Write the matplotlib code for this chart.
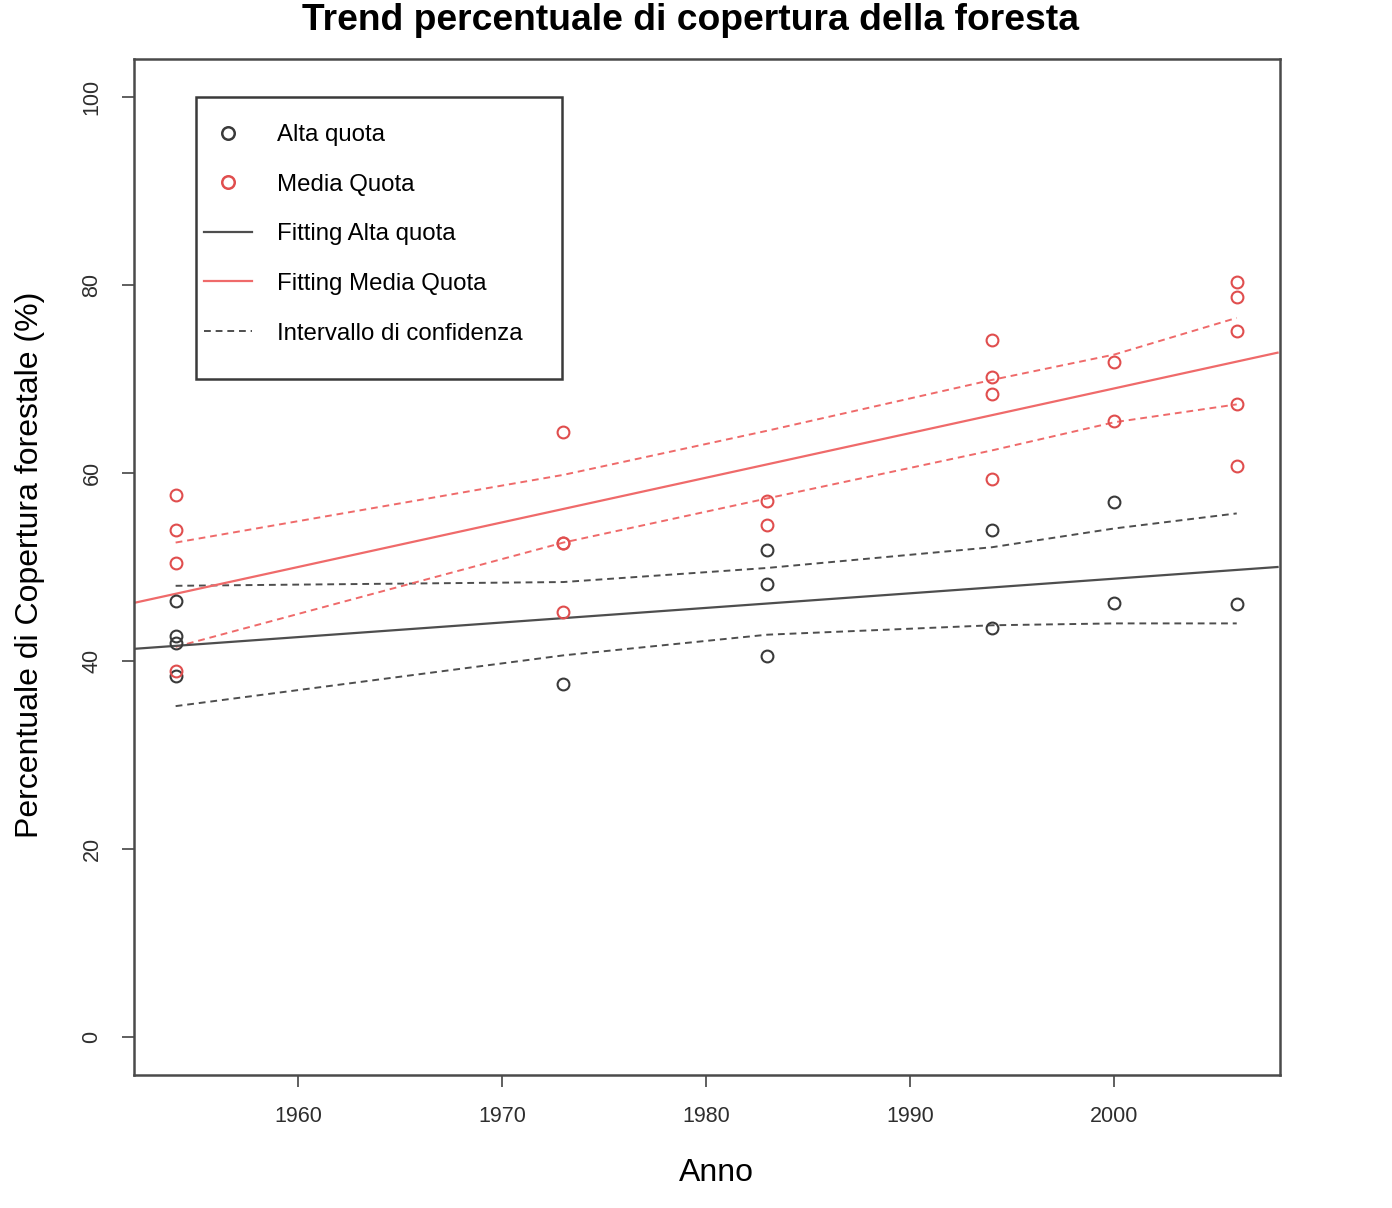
import matplotlib
matplotlib.use("Agg")
import matplotlib.pyplot as plt
from matplotlib.patches import Rectangle
from matplotlib.lines import Line2D

plt.rcParams['font.family'] = ['Liberation Sans', 'DejaVu Sans']

# ---- data ----
alta_years = [1954, 1954, 1954, 1954, 1973, 1983, 1983, 1983, 1994, 1994, 2000, 2000, 2006]
alta_vals  = [46.4, 42.7, 41.9, 38.4, 37.6, 51.8, 48.2, 40.5, 53.9, 43.5, 56.9, 46.2, 46.1]

media_years = [1954, 1954, 1954, 1954, 1973, 1973, 1973, 1973, 1983, 1983,
               1994, 1994, 1994, 1994, 2000, 2000, 2006, 2006, 2006, 2006, 2006]
media_vals  = [57.7, 53.9, 50.4, 38.9, 64.4, 52.6, 52.5, 45.2, 57.0, 54.5,
               74.1, 70.2, 68.4, 59.4, 71.8, 65.5, 80.3, 78.7, 75.1, 67.3, 60.7]

# fitted regression lines (value at 1952 and 2008)
fit_years = [1952, 2008]
fit_alta  = [41.3, 50.0]
fit_media = [46.2, 72.8]

# confidence interval curves
ci_years = [1954, 1973, 1983, 1994, 2000, 2006]
ci_alta_upper  = [48.0, 48.4, 49.9, 52.1, 54.1, 55.7]
ci_alta_lower  = [35.2, 40.6, 42.8, 43.8, 44.0, 44.0]
ci_media_upper = [52.6, 59.8, 64.5, 69.9, 72.6, 76.5]
ci_media_lower = [41.5, 52.6, 57.3, 62.4, 65.4, 67.3]

x_ticks = [1960, 1970, 1980, 1990, 2000]
y_ticks = [0, 20, 40, 60, 80, 100]

title = "Trend percentuale di copertura della foresta"
xlabel = "Anno"
ylabel = "Percentuale di Copertura forestale (%)"
legend_labels = ["Alta quota", "Media Quota", "Fitting Alta quota",
                 "Fitting Media Quota", "Intervallo di confidenza"]

BLACK = '#3a3a3a'
RED = '#e04e4e'
RED_LINE = '#ef6a6a'
GREY_LINE = '#4e4e4e'

W, H = 1392, 1208
fig = plt.figure(figsize=(W / 100, H / 100), dpi=100)
ax = fig.add_axes([134 / W, 1 - 1075 / H, 1146 / W, 1016 / H])

ax.set_xlim(1951.96, 2008.12)
ax.set_ylim(-4.04, 104.04)

dash = (3.5, 2.5)
# confidence intervals
ax.plot(ci_years, ci_alta_upper, color=GREY_LINE, lw=1.4, dashes=dash)
ax.plot(ci_years, ci_alta_lower, color=GREY_LINE, lw=1.4, dashes=dash)
ax.plot(ci_years, ci_media_upper, color=RED_LINE, lw=1.4, dashes=dash)
ax.plot(ci_years, ci_media_lower, color=RED_LINE, lw=1.4, dashes=dash)

# fit lines
ax.plot(fit_years, fit_alta, color=GREY_LINE, lw=1.6)
ax.plot(fit_years, fit_media, color=RED_LINE, lw=1.6)

# points
ax.plot(alta_years, alta_vals, linestyle='none', marker='o', ms=8.5,
        mfc='none', mec=BLACK, mew=1.5)
ax.plot(media_years, media_vals, linestyle='none', marker='o', ms=8.5,
        mfc='none', mec=RED, mew=1.5)

ax.set_xticks(x_ticks)
ax.set_yticks(y_ticks)
ax.set_xticklabels([str(v) for v in x_ticks])
ax.set_yticklabels([str(v) for v in y_ticks], rotation=90, va='center')
ax.tick_params(axis='both', direction='out', length=8.6, width=1.2,
               colors='#444444', labelsize=15.5, labelcolor='#2e2e2e', pad=14)

for s in ax.spines.values():
    s.set_color('#4a4a4a')
    s.set_linewidth(1.8)

ax.set_xlabel(xlabel, fontsize=23)
ax.xaxis.set_label_coords((716 - 134) / 1146, (1075 - 1173) / 1016)
ax.xaxis.label.set_va('center')
ax.set_ylabel(ylabel, fontsize=23)
ax.yaxis.set_label_coords((30 - 134) / 1146, (1075 - 565) / 1016)
ax.yaxis.label.set_va('center')

fig.text(691 / W, 1 - 20 / H, title, ha='center', va='center',
         fontsize=26.8, fontweight='bold')

# legend frame
ax.add_patch(Rectangle(((196 - 134) / 1146, (1075 - 379) / 1016),
                       366 / 1146, 282 / 1016, transform=ax.transAxes,
                       fill=True, facecolor='white', edgecolor='#3a3a3a',
                       lw=1.8, zorder=5))

handles = [
    Line2D([], [], linestyle='none', marker='o', ms=9, mfc='none', mec=BLACK, mew=1.8),
    Line2D([], [], linestyle='none', marker='o', ms=9, mfc='none', mec=RED, mew=1.8),
    Line2D([], [], color=GREY_LINE, lw=1.6),
    Line2D([], [], color=RED_LINE, lw=1.6),
    Line2D([], [], color=GREY_LINE, lw=1.4, dashes=dash),
]
leg = ax.legend(handles, legend_labels, loc='upper left',
                bbox_to_anchor=((204 - 134) / 1146, (1075 - 124) / 1016),
                frameon=False, fontsize=17.3, borderpad=0, borderaxespad=0,
                handlelength=2.0, handletextpad=1.04, labelspacing=1.15,
                numpoints=1)
leg.set_zorder(6)

fig.savefig('out.png', dpi=100, facecolor='white')
